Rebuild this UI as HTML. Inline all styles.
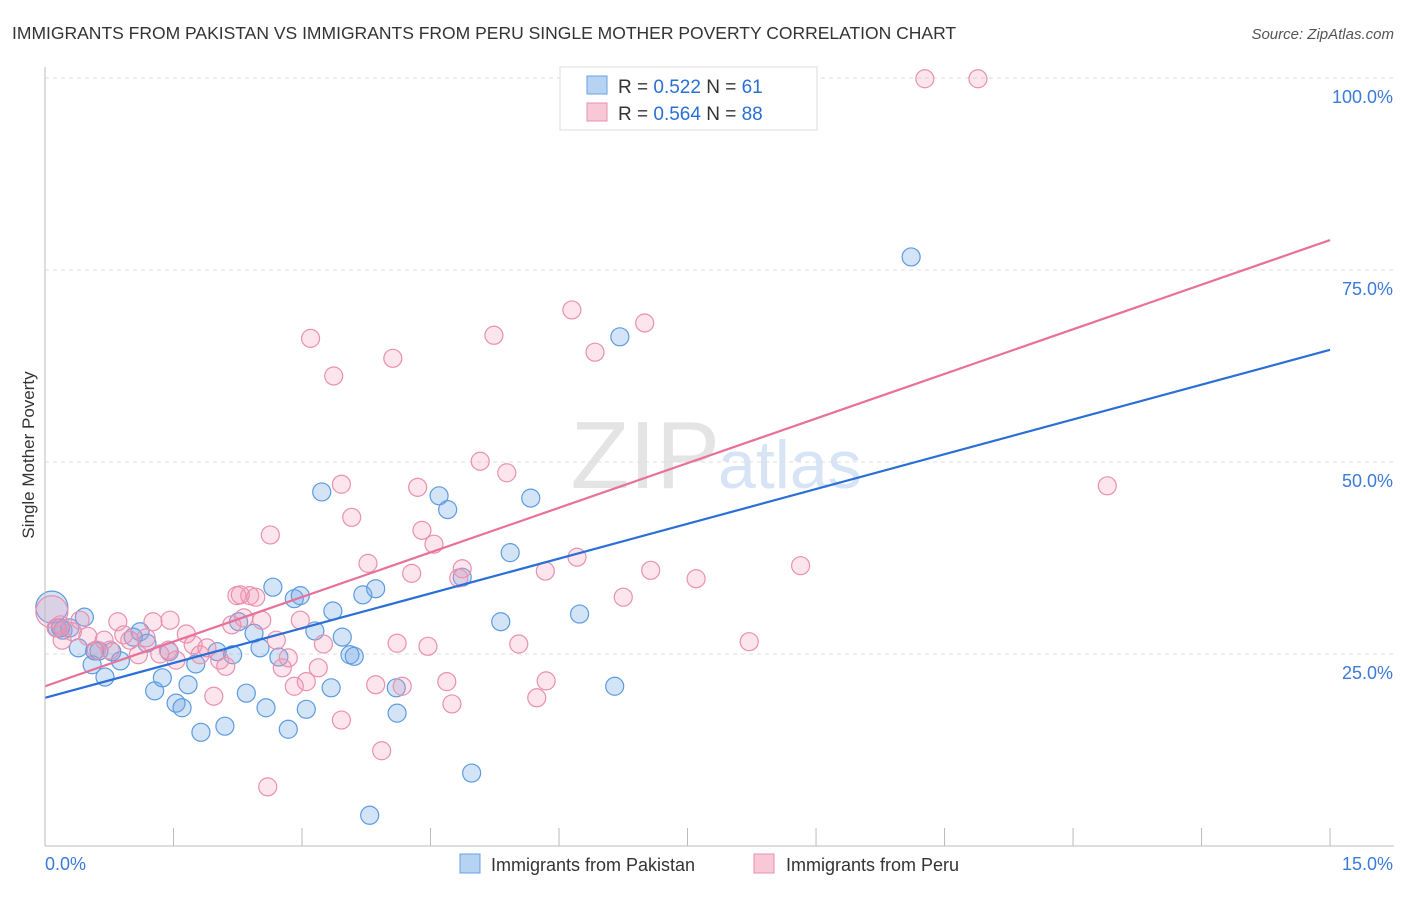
<!DOCTYPE html>
<html><head><meta charset="utf-8"><style>
body{margin:0;background:#fff;font-family:"Liberation Sans",sans-serif;}
svg text{font-family:"Liberation Sans",sans-serif;}
</style></head><body>
<svg id="chart" width="1406" height="892" viewBox="0 0 1406 892">
<text x="12" y="39" font-size="17.5" fill="#333">IMMIGRANTS FROM PAKISTAN VS IMMIGRANTS FROM PERU SINGLE MOTHER POVERTY CORRELATION CHART</text>
<text x="1394" y="39" font-size="15" fill="#555" text-anchor="end" font-style="italic">Source: ZipAtlas.com</text>
<text x="720" y="488" font-size="96" fill="#e4e4e4" text-anchor="end" font-family="Liberation Serif">ZIP</text>
<text x="718" y="488" font-size="68" fill="#d6e4f5">atlas</text>
<g id="grid"></g><g id="pts"></g><g id="lines"></g><g id="axes"></g>
<text transform="translate(34,455) rotate(-90)" font-size="17" fill="#333" text-anchor="middle">Single Mother Poverty</text>
<g>
<rect x="560" y="67" width="257" height="63" fill="#fff" stroke="#ddd"/>
<rect x="587" y="76" width="20" height="18" fill="#b7d3f3" stroke="#6aa0e0"/>
<rect x="587" y="103" width="20" height="18" fill="#f9c8d6" stroke="#e890ad"/>
<text x="618" y="93" font-size="19" fill="#333">R = <tspan fill="#2a6fd6">0.522</tspan>   N =  <tspan fill="#2a6fd6">61</tspan></text>
<text x="618" y="120" font-size="19" fill="#333">R = <tspan fill="#2a6fd6">0.564</tspan>   N = <tspan fill="#2a6fd6">88</tspan></text>
</g>
<g>
<rect x="460" y="854" width="20" height="19" fill="#b7d3f3" stroke="#6aa0e0"/>
<text x="491" y="871" font-size="18" fill="#333">Immigrants from Pakistan</text>
<rect x="754" y="854" width="20" height="19" fill="#f9c8d6" stroke="#e890ad"/>
<text x="786" y="871" font-size="18" fill="#333">Immigrants from Peru</text>
</g>
</svg>
<script>
const blueX=[0.08,0.14,0.21,0.46,0.29,0.39,0.55,0.63,0.70,0.78,0.88,1.03,1.11,1.19,1.28,1.37,1.45,1.53,1.60,1.67,1.76,1.82,2.01,2.10,2.19,2.26,2.35,2.44,2.51,2.58,2.66,2.73,2.84,2.91,2.98,3.05,3.15,3.23,3.34,3.36,3.47,3.56,3.61,3.71,3.79,3.86,4.10,4.11,4.60,4.70,4.87,4.98,5.32,5.43,5.67,6.24,6.65,6.71,10.11,0.18,0.58];
const blueY=[31.1,28.4,28.1,29.8,28.4,25.8,23.6,25.4,22.0,25.3,24.1,27.2,27.9,26.4,20.2,21.9,25.3,18.6,18.0,21.0,23.7,14.8,25.3,15.6,24.9,29.2,19.9,27.7,25.8,18.0,33.7,24.6,15.2,32.2,32.6,17.8,28.0,46.1,20.6,30.6,27.2,24.9,24.7,32.7,4.0,33.5,20.6,17.3,45.6,43.8,35.0,9.5,29.2,38.2,45.3,30.2,20.8,66.3,76.7,28.4,25.4];
const pinkX=[0.08,0.13,0.20,0.32,0.41,0.50,0.60,0.69,0.76,0.85,0.92,0.99,1.09,1.18,1.26,1.34,1.44,1.53,1.65,1.73,1.81,1.89,1.97,2.04,2.11,2.18,2.24,2.32,2.39,2.46,2.53,2.63,2.70,2.77,2.84,2.91,2.98,3.05,3.10,3.19,3.25,3.37,3.46,3.46,3.58,3.77,3.86,3.93,4.06,4.11,4.17,4.28,4.35,4.40,4.47,4.54,4.69,4.75,4.83,4.87,5.08,5.24,5.39,5.53,5.74,5.84,5.85,6.15,6.21,6.42,6.75,7.00,7.07,6.91,7.60,8.22,8.82,10.27,10.89,12.40,2.60,0.18,2.28,1.46];
const pinkY=[30.5,28.4,26.8,27.9,29.4,27.3,25.5,26.8,25.5,29.2,27.5,26.8,24.9,27.1,29.2,25.0,25.5,24.2,27.6,26.2,24.9,25.8,19.5,24.2,23.4,28.8,32.6,29.7,32.6,32.4,29.4,40.5,26.8,23.2,24.5,20.8,29.4,21.4,66.1,23.2,26.3,61.2,16.4,47.1,42.8,36.8,21.0,12.4,63.5,26.4,20.8,35.5,46.7,41.1,26.0,39.3,21.4,18.5,34.9,36.1,50.1,66.5,48.6,26.3,19.3,35.8,21.5,69.8,37.6,64.3,32.4,68.1,35.9,99.9,34.8,26.6,36.5,99.9,99.9,46.9,7.7,28.8,32.7,29.4];
const blueTrend=[19.3,64.6];
const pinkTrend=[20.8,78.9];
const yTicks=[25,50,75,100];
const xTicks=[0,1.5,3,4.5,6,7.5,9,10.5,12,13.5,15];
const NS='http://www.w3.org/2000/svg';
const sx=v=>45+v*85.67, sy=v=>846-v*7.68;
function mk(tag,attrs,parent){const e=document.createElementNS(NS,tag);for(const k in attrs)e.setAttribute(k,attrs[k]);document.getElementById(parent).appendChild(e);return e;}
yTicks.forEach(t=>{
 const g=mk('line',{x1:45,x2:1394,y1:sy(t),y2:sy(t),stroke:'#ddd','stroke-dasharray':'4,4'},'grid');
 
 
 const l=mk('text',{x:1393,y:sy(t)+25,'font-size':18,fill:'#3a7ad8','text-anchor':'end'},'axes');
 l.textContent=t.toFixed(1)+'%';
 
 
});
const ax=mk('line',{x1:45,x2:1394,y1:846,y2:846,stroke:'#bbb'},'axes');


const ay=mk('line',{x1:45,x2:45,y1:67,y2:846,stroke:'#bbb'},'axes');


xTicks.forEach(t=>{
 const tk=mk('line',{x1:sx(t),x2:sx(t),y1:828,y2:846,stroke:'#bbb'},'axes');
 
 
});
[[0,'0.0%','start',45],[15,'15.0%','end',1393]].forEach(a=>{
 const l=mk('text',{x:a[3],y:870,'font-size':18,fill:'#3a7ad8','text-anchor':a[2]},'axes');
 l.textContent=a[1];
 
 
});
function pts(X,Y,fill,stroke,name){
 X.forEach((x,i)=>{
  const c=mk('circle',{cx:sx(x),cy:sy(Y[i]),r:i==0?16:9,fill:fill,stroke:stroke,'stroke-width':1.2},'pts');
  
  
 });
}
pts(blueX,blueY,'rgba(110,165,230,0.3)','#5c9be2','pakistan-point');
pts(pinkX,pinkY,'rgba(245,150,180,0.25)','#ea90ae','peru-point');
const bl=mk('line',{x1:sx(0),y1:sy(blueTrend[0]),x2:sx(15),y2:sy(blueTrend[1]),stroke:'#2a6fd6','stroke-width':2.2},'lines');


const pl=mk('line',{x1:sx(0),y1:sy(pinkTrend[0]),x2:sx(15),y2:sy(pinkTrend[1]),stroke:'#e8709a','stroke-width':2.2},'lines');


</script>
</body></html>
